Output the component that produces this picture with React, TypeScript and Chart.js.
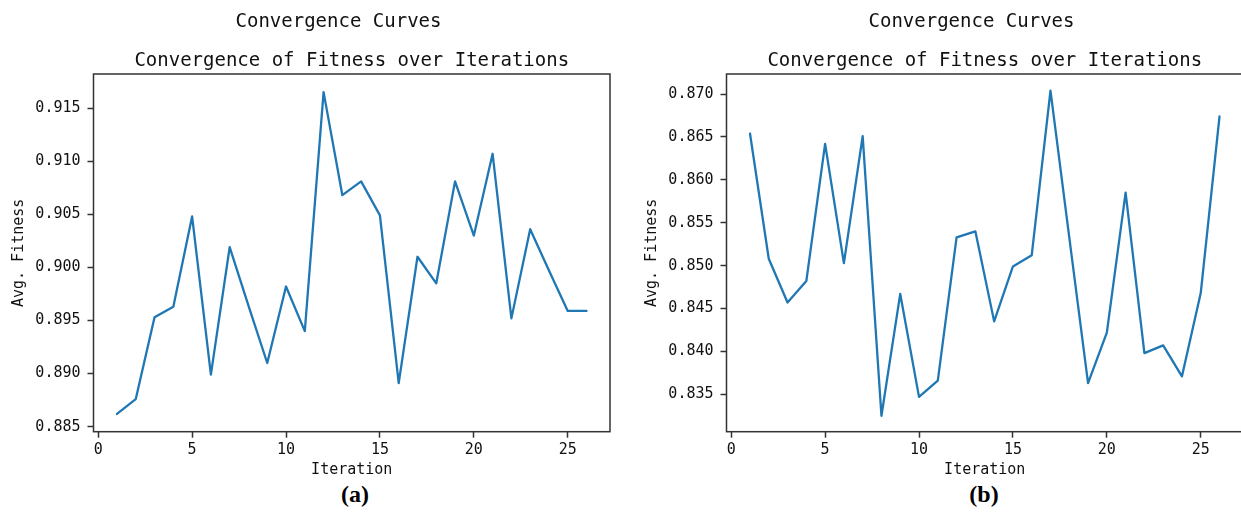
import React, { useEffect, useRef } from "react";
import { Chart, registerables } from "chart.js";

Chart.register(...registerables);

// ---- data ----
const iterations = [1, 2, 3, 4, 5, 6, 7, 8, 9, 10, 11, 12, 13, 14, 15, 16, 17, 18, 19, 20, 21, 22, 23, 24, 25, 26];

const fitnessA = [
  0.8862, 0.8876, 0.8953, 0.8963, 0.9048, 0.8899, 0.9019, 0.8964, 0.8910, 0.8982,
  0.8940, 0.9165, 0.9068, 0.9081, 0.9049, 0.8891, 0.9010, 0.8985, 0.9081, 0.9030,
  0.9107, 0.8952, 0.9036, 0.8997, 0.8959, 0.8959,
];

const fitnessB = [
  0.8654, 0.8508, 0.8457, 0.8482, 0.8642, 0.8503, 0.8651, 0.8325, 0.8467, 0.8347,
  0.8366, 0.8533, 0.8540, 0.8435, 0.8499, 0.8512, 0.8704, 0.8533, 0.8363, 0.8422,
  0.8585, 0.8398, 0.8407, 0.8371, 0.8468, 0.8674,
];

// axis limits
const xLimits = [-0.25, 27.25];
const yLimitsA = [0.88453, 0.91821];
const yLimitsB = [0.83064, 0.87234];

const supTitle = "Convergence Curves";
const axesTitle = "Convergence of Fitness over Iterations";
const xLabel = "Iteration";
const yLabel = "Avg. Fitness";
const captions = ["(a)", "(b)"];
const xTickStep = 5;
const yTickStep = 0.005;

const MONO = "'DejaVu Sans Mono', monospace";
const LINE_COLOR = "#1f77b4";
const INK = "#111";

const spinePlugin = {
  id: "spines",
  afterDraw(chart: any) {
    const { ctx, chartArea } = chart;
    const { left, top, right, bottom } = chartArea;
    ctx.save();
    ctx.strokeStyle = "#333";
    ctx.lineWidth = 1.5;
    ctx.strokeRect(left, top, right - left, bottom - top);
    ctx.restore();
  },
};

const CANVAS_W = 677;
const CANVAS_H = 480;

function Panel({ values, yLimits, left }: { values: number[]; yLimits: number[]; left: number }) {
  const ref = useRef<HTMLCanvasElement | null>(null);

  useEffect(() => {
    if (!ref.current) return;
    const tickFont = { family: MONO, size: 15 };
    const gridOpts = {
      drawOnChartArea: false,
      drawTicks: true,
      tickLength: 6,
      tickColor: "#333",
      tickWidth: 1.5,
    };
    const chart = new Chart(ref.current, {
      type: "line",
      data: {
        datasets: [
          {
            data: iterations.map((x, i) => ({ x, y: values[i] })),
            borderColor: LINE_COLOR,
            borderWidth: 2.3,
            borderJoinStyle: "round",
            borderCapStyle: "round",
            pointRadius: 0,
            tension: 0,
            fill: false,
            yAxisID: "y",
          },
        ],
      },
      options: {
        animation: false,
        responsive: false,
        events: [],
        layout: { padding: { left: 0, right: 0, top: 0, bottom: 0 } },
        plugins: {
          legend: { display: false },
          tooltip: { enabled: false },
          title: {
            display: true,
            text: supTitle,
            fullSize: true,
            color: INK,
            font: { family: MONO, size: 19, weight: "normal", lineHeight: 1.2 },
            padding: { top: 10.6, bottom: 8 },
          },
          subtitle: {
            display: true,
            text: axesTitle,
            fullSize: false,
            color: INK,
            font: { family: MONO, size: 19, weight: "normal", lineHeight: 1.2 },
            padding: { top: 8.2, bottom: 1.6 },
          },
        },
        scales: {
          x: {
            type: "linear",
            min: xLimits[0],
            max: xLimits[1],
            afterFit: (s: any) => {
              s.height = 48.3;
            },
            ticks: {
              stepSize: xTickStep,
              includeBounds: false,
              padding: 3,
              color: INK,
              font: tickFont,
              maxRotation: 0,
              callback: (v: any) => String(v),
            },
            grid: gridOpts,
            border: { display: false },
            title: {
              display: true,
              text: xLabel,
              color: INK,
              font: tickFont,
              padding: { top: 0, bottom: 1 },
            },
          },
          y: {
            type: "linear",
            min: yLimits[0],
            max: yLimits[1],
            afterFit: (s: any) => {
              s.width = 93.5;
            },
            ticks: {
              stepSize: yTickStep,
              includeBounds: false,
              padding: 7,
              color: INK,
              font: tickFont,
              callback: (v: any) => Number(v).toFixed(3),
            },
            grid: gridOpts,
            border: { display: false },
            title: {
              display: true,
              text: yLabel,
              color: INK,
              font: tickFont,
              padding: { top: 10, bottom: 0 },
            },
          },
          // empty right-hand spacer so the figure title centres on the whole figure
          spacer: {
            type: "linear",
            position: "right",
            display: true,
            afterFit: (s: any) => {
              s.width = 67;
            },
            ticks: { display: false },
            grid: { display: false },
            border: { display: false },
          },
        },
      } as any,
      plugins: [spinePlugin],
    });
    return () => chart.destroy();
  }, [values, yLimits]);

  return (
    <canvas
      ref={ref}
      width={CANVAS_W}
      height={CANVAS_H}
      style={{ position: "absolute", left, top: 0, width: CANVAS_W, height: CANVAS_H }}
    />
  );
}

function Caption({ text, center }: { text: string; center: number }) {
  return (
    <div
      style={{
        position: "absolute",
        left: center - 50,
        top: 482,
        width: 100,
        textAlign: "center",
        fontFamily: "'Liberation Serif', 'Times New Roman', serif",
        fontWeight: "bold",
        fontSize: 24,
        lineHeight: "24px",
        color: "#000",
      }}
    >
      {text}
    </div>
  );
}

export default function App() {
  return (
    <div
      style={{
        position: "absolute",
        left: 0,
        top: 0,
        width: 1241,
        height: 512,
        overflow: "hidden",
        background: "#fff",
      }}
    >
      <Panel values={fitnessA} yLimits={yLimitsA} left={0} />
      <Panel values={fitnessB} yLimits={yLimitsB} left={633} />
      <Caption text={captions[0]} center={355} />
      <Caption text={captions[1]} center={984} />
    </div>
  );
}
